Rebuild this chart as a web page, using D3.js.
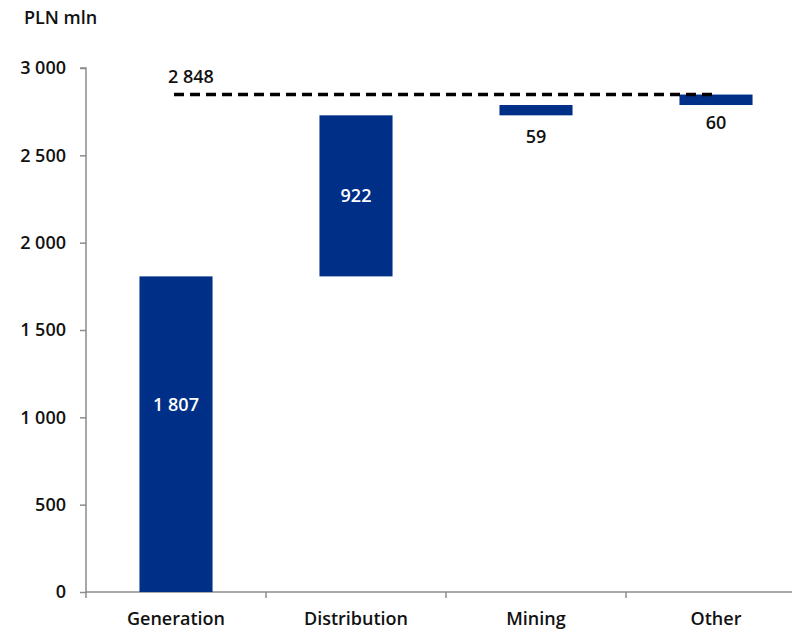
<!DOCTYPE html>
<html>
<head>
<meta charset="utf-8">
<script src="https://cdn.jsdelivr.net/npm/d3@7"></script>
<style>
  body { margin: 0; background: #fff; }
  text { font-family: "Open Sans", "Noto Sans", sans-serif; font-weight: 600; }
</style>
</head>
<body>
<svg id="chart" width="792" height="630"></svg>
<script>
// Waterfall of EBITDA contributions by segment (PLN mln)
const categories = ["Generation", "Distribution", "Mining", "Other"];
const values = [1807, 922, 59, 60];
const valueLabels = ["1 807", "922", "59", "60"];
const total = 2848;
const totalLabel = "2 848";
const yTicks = [0, 500, 1000, 1500, 2000, 2500, 3000];
const yTickLabels = ["0", "500", "1 000", "1 500", "2 000", "2 500", "3 000"];

const svg = d3.select("#chart");
const plotLeft = 86, plotBottom = 592, plotTop = 68;
const step = 180;
const fontSize = 18;

const x = d3.scaleBand()
  .domain(categories)
  .range([plotLeft, plotLeft + step * categories.length])
  .paddingInner(0.594)
  .paddingOuter(0.297);

const y = d3.scaleLinear().domain([0, 3000]).range([plotBottom, plotTop]);

// cumulative starts/ends
let acc = 0;
const bars = categories.map((c, i) => {
  const start = acc;
  acc += values[i];
  return { cat: c, start, end: acc, label: valueLabels[i], i };
});

// axes
const axisColor = "#8c8c8c";
const yAxis = svg.append("g")
  .attr("transform", `translate(${plotLeft},0)`)
  .call(d3.axisLeft(y).tickValues(yTicks).tickSize(6).tickPadding(14)
    .tickFormat((d, i) => yTickLabels[i]));
yAxis.select(".domain").attr("stroke", axisColor).attr("stroke-width", 1.5)
  .attr("d", `M-6,${plotTop}H0V${plotBottom}`);
yAxis.selectAll(".tick line").attr("stroke", axisColor).attr("stroke-width", 1.5);
yAxis.selectAll(".tick text").attr("font-size", 18).attr("fill", "#111")
  .style("font-family", "'Open Sans', sans-serif").style("font-weight", 600);

// x axis with boundary ticks between categories
const xg = svg.append("g");
xg.append("line")
  .attr("x1", plotLeft).attr("x2", 792)
  .attr("y1", plotBottom).attr("y2", plotBottom)
  .attr("stroke", axisColor).attr("stroke-width", 1.5);
categories.forEach((c, i) => {
  const bx = x(c) - x.step() * x.paddingOuter();
  xg.append("line")
    .attr("x1", bx).attr("x2", bx)
    .attr("y1", plotBottom).attr("y2", plotBottom + 6)
    .attr("stroke", axisColor).attr("stroke-width", 1.5);
  xg.append("text")
    .attr("x", x(c) + x.bandwidth() / 2)
    .attr("y", plotBottom + 33)
    .attr("text-anchor", "middle")
    .attr("font-size", fontSize)
    .attr("fill", "#111")
    .text(c);
});

// bars
const barColor = "#002f87";
svg.selectAll("rect.bar").data(bars).join("rect")
  .attr("class", "bar")
  .attr("x", d => x(d.cat))
  .attr("width", x.bandwidth())
  .attr("y", d => y(d.end))
  .attr("height", d => y(d.start) - y(d.end))
  .attr("fill", barColor);

// value labels: inside for tall bars, below for thin ones
svg.selectAll("text.val").data(bars).join("text")
  .attr("class", "val")
  .attr("x", d => x(d.cat) + x.bandwidth() / 2)
  .attr("y", d => {
    if (d.i === 0) return y(d.start + (d.end - d.start) * 0.592) + 6;
    if (d.i === 1) return (y(d.start) + y(d.end)) / 2 + 6;
    return y(d.start) + 28 - (d.i === 3 ? 4 : 0);
  })
  .attr("text-anchor", "middle")
  .attr("font-size", fontSize)
  .attr("fill", d => d.i < 2 ? "#fff" : "#111")
  .text(d => d.label);

// dashed total line
const first = categories[0], last = categories[categories.length - 1];
svg.append("line")
  .attr("x1", x(first) + x.bandwidth() / 2 - 2)
  .attr("x2", x(last) + x.bandwidth() / 2 + 2)
  .attr("y1", y(total)).attr("y2", y(total))
  .attr("stroke", "#000")
  .attr("stroke-width", 3.5)
  .attr("stroke-dasharray", "10,6");

svg.append("text")
  .attr("x", x(first) + x.bandwidth() / 2 - 8)
  .attr("y", y(total) - 12)
  .attr("font-size", fontSize)
  .attr("fill", "#111")
  .text(totalLabel);

// unit title
svg.append("text")
  .attr("x", 24).attr("y", 24)
  .attr("font-size", fontSize)
  .attr("fill", "#111")
  .text("PLN mln");
</script>
</body>
</html>
